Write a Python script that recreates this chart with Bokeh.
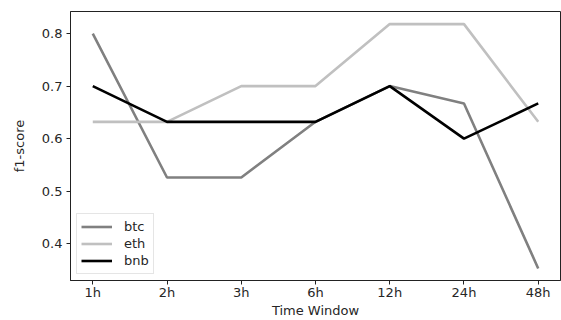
from bokeh.plotting import figure
from bokeh.models import Range1d, FixedTicker, Legend, LegendItem
from bokeh.embed import file_html
from bokeh.resources import INLINE

windows = ["1h", "2h", "3h", "6h", "12h", "24h", "48h"]
btc = [0.800, 0.526, 0.526, 0.632, 0.700, 0.667, 0.353]
eth = [0.632, 0.632, 0.700, 0.700, 0.818, 0.818, 0.632]
bnb = [0.700, 0.632, 0.632, 0.632, 0.700, 0.600, 0.667]
y_ticks = [0.4, 0.5, 0.6, 0.7, 0.8]

xs = list(range(len(windows)))

p = figure(width=561, height=320, output_backend="svg", toolbar_location=None,
           x_range=Range1d(-0.3, len(windows) - 1 + 0.3),
           y_range=Range1d(0.330, 0.842),
           min_border_left=70, min_border_right=1, min_border_top=11, min_border_bottom=36)

r1 = p.line(xs, btc, line_color="#808080", line_width=2.6)
r2 = p.line(xs, eth, line_color="#c0c0c0", line_width=2.6)
r3 = p.line(xs, bnb, line_color="#000000", line_width=2.6)

p.xgrid.visible = False
p.ygrid.visible = False
p.outline_line_color = "#222222"
p.outline_line_width = 1
p.background_fill_color = "white"
p.border_fill_color = "white"

p.xaxis.ticker = FixedTicker(ticks=xs)
p.xaxis.major_label_overrides = {i: w for i, w in enumerate(windows)}
p.yaxis.ticker = FixedTicker(ticks=y_ticks)
p.yaxis.major_label_overrides = {t: f"{t:.1f}" for t in y_ticks}

for ax in (p.xaxis, p.yaxis):
    ax.axis_line_color = "#222222"
    ax.major_tick_line_color = "#222222"
    ax.major_tick_in = 0
    ax.major_tick_out = 4
    ax.minor_tick_line_color = None
    ax.major_label_text_font = "DejaVu Sans"
    ax.major_label_text_font_size = "13px"
    ax.major_label_text_color = "#262626"
    ax.axis_label_text_font = "DejaVu Sans"
    ax.axis_label_text_font_size = "13px"
    ax.axis_label_text_font_style = "normal"
    ax.axis_label_text_color = "#262626"

p.xaxis.axis_label = "Time Window"
p.yaxis.axis_label = "f1-score"
p.xaxis.major_label_standoff = 0
p.yaxis.major_label_standoff = 4
p.xaxis.axis_label_standoff = 0
p.yaxis.axis_label_standoff = 12

legend = Legend(items=[LegendItem(label="btc", renderers=[r1]),
                       LegendItem(label="eth", renderers=[r2]),
                       LegendItem(label="bnb", renderers=[r3])],
                location="bottom_left")
legend.margin = 6
legend.padding = 4
legend.spacing = 0
legend.glyph_width = 31
legend.glyph_height = 17
legend.label_height = 17
legend.label_standoff = 12
legend.label_text_font = "DejaVu Sans"
legend.label_text_font_size = "13px"
legend.label_text_color = "#262626"
legend.border_line_color = "#cccccc"
legend.border_line_width = 1
legend.background_fill_alpha = 0.8
p.add_layout(legend, "center")

open("out.html", "w").write(file_html(p, INLINE))
